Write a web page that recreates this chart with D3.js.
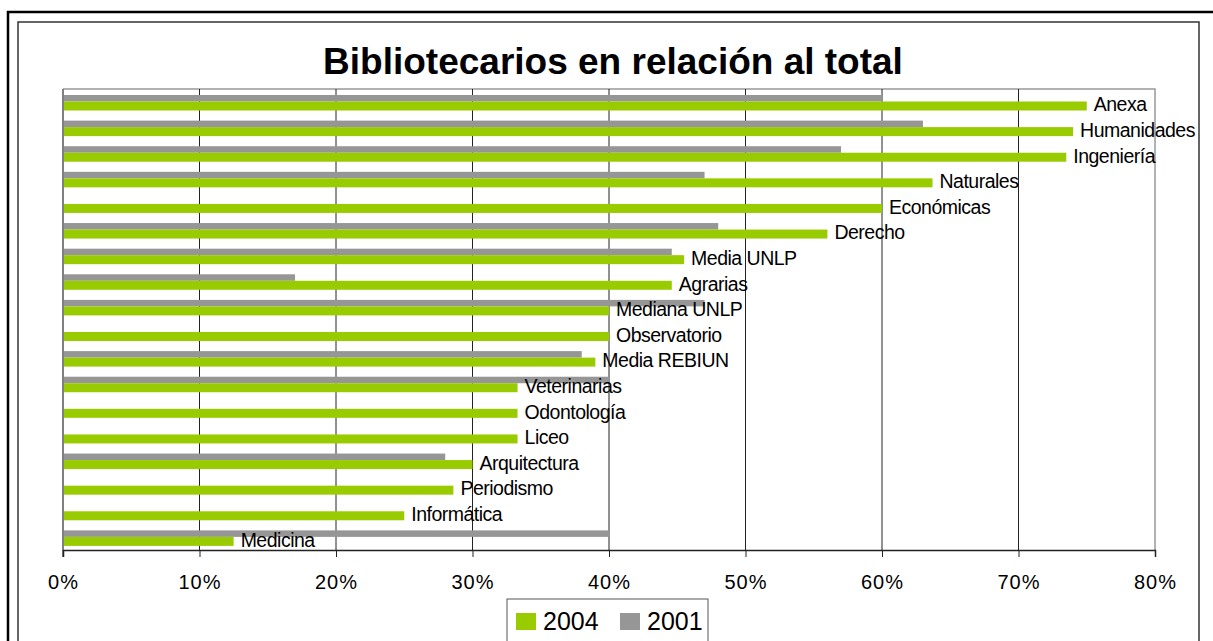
<!DOCTYPE html>
<html>
<head>
<meta charset="utf-8">
<script src="https://cdn.jsdelivr.net/npm/d3@7"></script>
<style>
  body { margin: 0; background: #fff; }
  text { font-family: "Liberation Sans", Arial, sans-serif; }
</style>
</head>
<body>
<script>
var width = 1213,
    height = 641;

var categories = ['Anexa', 'Humanidades', 'Ingeniería', 'Naturales', 'Económicas', 'Derecho',
  'Media UNLP', 'Agrarias', 'Mediana UNLP', 'Observatorio', 'Media REBIUN', 'Veterinarias',
  'Odontología', 'Liceo', 'Arquitectura', 'Periodismo', 'Informática', 'Medicina'];

var values2004 = [0.75, 0.74, 0.735, 0.637, 0.60, 0.56, 0.455, 0.446, 0.40, 0.40, 0.39,
  0.333, 0.333, 0.333, 0.30, 0.286, 0.25, 0.125];

var values2001 = [0.60, 0.63, 0.57, 0.47, null, 0.48, 0.446, 0.17, 0.47, null, 0.38,
  0.40, null, null, 0.28, null, null, 0.40];

var tickValues = [0, 0.1, 0.2, 0.3, 0.4, 0.5, 0.6, 0.7, 0.8];

var legendItems = [
  { label: '2004', color: '#99cc00' },
  { label: '2001', color: '#969696' }
];

var svg = d3.select('body')
  .append('svg')
  .attr('width', width)
  .attr('height', height);

// frames
svg.append('path')
  .attr('d', 'M8,' + (height + 5) + 'V12H' + (width + 5))
  .attr('fill', 'none')
  .attr('stroke', '#000')
  .attr('stroke-width', 2.5);

svg.append('path')
  .attr('d', 'M18,' + (height + 5) + 'V22H1199V' + (height + 5))
  .attr('fill', 'none')
  .attr('stroke', '#333')
  .attr('stroke-width', 1.5);

var plotLeft = 63, plotRight = 1155, plotTop = 89, plotBottom = 550;

var x = d3.scaleLinear()
  .domain([0, 0.8])
  .range([plotLeft, plotRight]);

var y = d3.scaleBand()
  .domain(categories)
  .range([plotTop, plotBottom]);

// title
svg.append('text')
  .attr('x', 613)
  .attr('y', 74)
  .attr('text-anchor', 'middle')
  .style('font-size', '37px')
  .style('font-weight', 'bold')
  .text('Bibliotecarios en relación al total');

// plot border (top, right)
svg.append('path')
  .attr('d', 'M' + plotLeft + ',' + plotTop + 'H' + plotRight + 'V' + plotBottom)
  .attr('fill', 'none')
  .attr('stroke', '#999')
  .attr('stroke-width', 1.5);

// gridlines
svg.selectAll('.grid')
  .data(tickValues.slice(1, -1))
  .enter().append('line')
  .attr('x1', function (d) { return x(d); })
  .attr('x2', function (d) { return x(d); })
  .attr('y1', plotTop)
  .attr('y2', plotBottom)
  .attr('stroke', '#222')
  .attr('stroke-width', 1);

var rows = categories.map(function (c, i) {
  return { cat: c, v04: values2004[i], v01: values2001[i] };
});

// 2001 bars
svg.selectAll('.bar01')
  .data(rows.filter(function (d) { return d.v01 != null; }))
  .enter().append('rect')
  .attr('x', plotLeft)
  .attr('y', function (d) { return y(d.cat) + 6; })
  .attr('width', function (d) { return x(d.v01) - plotLeft; })
  .attr('height', 6.5)
  .attr('fill', '#969696');

// 2004 bars
svg.selectAll('.bar04')
  .data(rows)
  .enter().append('rect')
  .attr('x', plotLeft)
  .attr('y', function (d) { return y(d.cat) + 12.5; })
  .attr('width', function (d) { return x(d.v04) - plotLeft; })
  .attr('height', 9)
  .attr('fill', '#99cc00');

// left axis line
svg.append('line')
  .attr('x1', plotLeft).attr('x2', plotLeft)
  .attr('y1', plotTop).attr('y2', plotBottom + 7)
  .attr('stroke', '#808080')
  .attr('stroke-width', 2);

var xAxis = d3.axisBottom(x)
  .tickValues(tickValues)
  .tickSize(7)
  .tickFormat(d3.format('.0%'));

var gx = svg.append('g')
  .attr('transform', 'translate(0,' + plotBottom + ')')
  .call(xAxis);

gx.select('.domain').attr('stroke', '#222').attr('stroke-width', 1.5);
gx.selectAll('.tick line').attr('stroke', '#222');
gx.selectAll('.tick text')
  .attr('y', 39)
  .attr('dy', 0)
  .attr('fill', '#000')
  .style('font-family', '"Liberation Sans", Arial, sans-serif')
  .style('font-size', '20px')
  .style('letter-spacing', '1px');

// category labels
svg.selectAll('.lbl')
  .data(rows)
  .enter().append('text')
  .attr('x', function (d) { return x(d.v04) + 7; })
  .attr('y', function (d) { return y(d.cat) + y.bandwidth() / 2 + 9.5; })
  .style('font-size', '19.5px')
  .style('letter-spacing', '-0.5px')
  .attr('fill', '#000')
  .text(function (d) { return d.cat; });

// legend
svg.append('rect')
  .attr('x', 507)
  .attr('y', 599)
  .attr('width', 201)
  .attr('height', 60)
  .attr('fill', '#fff')
  .attr('stroke', '#555')
  .attr('stroke-width', 1);

var legend = svg.selectAll('.leg')
  .data(legendItems)
  .enter().append('g')
  .attr('transform', function (d, i) { return 'translate(' + (516 + i * 104) + ',613)'; });

legend.append('rect')
  .attr('width', 20)
  .attr('height', 17)
  .attr('fill', function (d) { return d.color; });

legend.append('text')
  .attr('x', 27)
  .attr('y', 17)
  .style('font-size', '25px')
  .text(function (d) { return d.label; });
</script>
</body>
</html>
